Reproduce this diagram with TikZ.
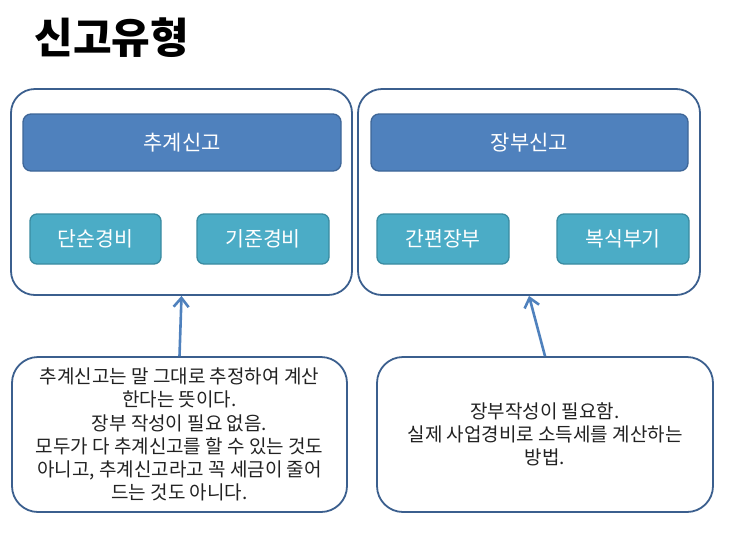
\documentclass[tikz,border=0pt]{standalone}
\usepackage{fontspec}
\setmainfont{Noto Sans CJK KR}
\newfontfamily\titlefont{Noto Sans CJK KR Black}
\usetikzlibrary{arrows.meta}
\definecolor{hdrfill}{HTML}{4F81BD}
\definecolor{hdrdraw}{HTML}{3E6698}
\definecolor{subfill}{HTML}{4BACC6}
\definecolor{subdraw}{HTML}{3A8BA1}
\definecolor{outdraw}{HTML}{3B5F8E}
\definecolor{txt}{HTML}{222222}
\tikzset{
  outerbox/.style={draw=outdraw, line width=1.8pt, rounded corners=24pt, fill=white},
  hdrbox/.style={draw=hdrdraw, line width=1.3pt, fill=hdrfill, rounded corners=8pt, text=white, font=\fontsize{21}{24}\selectfont},
  subbox/.style={draw=subdraw, line width=1.3pt, fill=subfill, rounded corners=7pt, text=white, font=\fontsize{20.5}{24}\selectfont},
  notebox/.style={draw=outdraw, line width=1.8pt, rounded corners=26pt, fill=white, align=center, text=txt, font=\fontsize{19}{23.2}\selectfont},
  arr/.style={draw=hdrfill, line width=2.6pt, -{Straight Barb[length=9pt,width=15pt]}}
}
\begin{document}
\begin{tikzpicture}[x=1pt,y=-1pt]
\useasboundingbox (0,0) rectangle (743,544);
\node[anchor=west, font=\titlefont\fontsize{42}{46}\selectfont] (title) at (31,38) {신고유형};
% outer boxes
\node[outerbox, minimum width=341pt, minimum height=206pt] (ol) at (181.5,192) {};
\node[outerbox, minimum width=342pt, minimum height=206pt] (or) at (529,192) {};
% headers
\node[hdrbox, minimum width=318pt, minimum height=57pt] (h1) at (182,142.5) {추계신고};
\node[hdrbox, minimum width=317pt, minimum height=57pt] (h2) at (529.5,142.5) {장부신고};
% sub boxes
\node[subbox, minimum width=131pt, minimum height=50pt] (s1) at (95.5,239) {단순경비};
\node[subbox, minimum width=132pt, minimum height=50pt] (s2) at (263,239) {기준경비};
\node[subbox, minimum width=132pt, minimum height=50pt] (s3) at (443,239) {간편장부};
\node[subbox, minimum width=132pt, minimum height=50pt] (s4) at (623,239) {복식부기};
% note boxes
\node[notebox, minimum width=335pt, minimum height=155pt] (n1) at (179.5,434.5) {추계신고는 말 그대로 추정하여 계산\\한다는 뜻이다.\\장부 작성이 필요 없음.\\모두가 다 추계신고를 할 수 있는 것도\\아니고, 추계신고라고 꼭 세금이 줄어\\드는 것도 아니다.};
\node[notebox, minimum width=336pt, minimum height=155pt] (n2) at (545,434.5) {장부작성이 필요함.\\실제 사업경비로 소득세를 계산하는\\방법.};
% arrows
\draw[arr] (n1.north) -- (ol.south);
\draw[arr] (n2.north) -- (or.south);
\end{tikzpicture}
\end{document}
